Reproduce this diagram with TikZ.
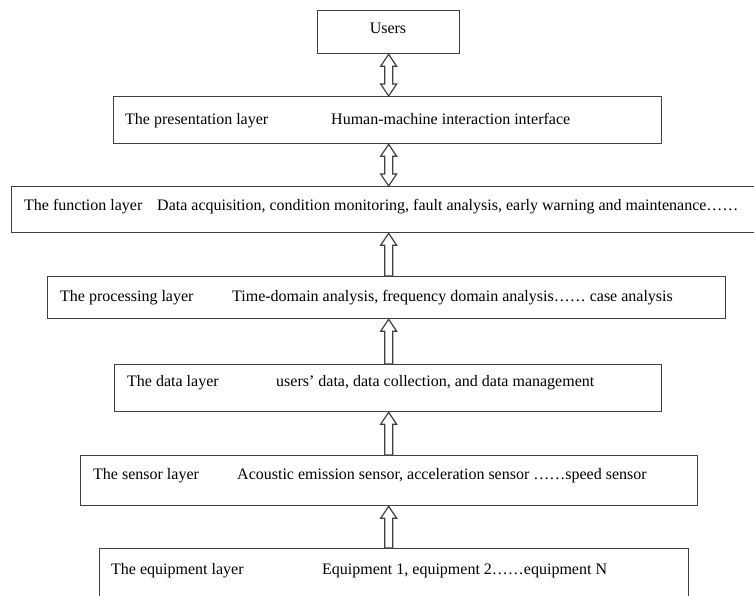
\documentclass[tikz,border=0pt]{standalone}
\usepackage{fontspec}
\setmainfont{Liberation Serif}
\usetikzlibrary{calc}
\tikzset{
  layerbox/.style={draw=black!75, line width=1.3pt, rectangle, anchor=north west, inner sep=0pt},
  lbl/.style={anchor=base west, inner sep=0pt, font=\fontsize{16}{18}\selectfont},
  harrow/.style={draw=black!75, line width=1.2pt, fill=white, line join=miter}
}
\newcommand\uparrowshape[2]{%
  \draw[harrow] let \p1=#1, \p2=#2 in
   (\x1-4pt,\y1) -- (\x1-4pt,\y2-12pt) -- (\x1-8pt,\y2-12pt) -- (\x1,\y2)
   -- (\x1+8pt,\y2-12pt) -- (\x1+4pt,\y2-12pt) -- (\x1+4pt,\y1) -- cycle;}
\newcommand\dblarrowshape[2]{%
  \draw[harrow] let \p1=#1, \p2=#2 in
   (\x1,\y1) -- (\x1-8pt,\y1+12pt) -- (\x1-4pt,\y1+12pt) -- (\x1-4pt,\y2-12pt) -- (\x1-8pt,\y2-12pt) -- (\x1,\y2)
   -- (\x1+8pt,\y2-12pt) -- (\x1+4pt,\y2-12pt) -- (\x1+4pt,\y1+12pt) -- (\x1+8pt,\y1+12pt) -- cycle;}
\begin{document}
\begin{tikzpicture}[x=1pt,y=-1pt]
\useasboundingbox (0,0) rectangle (754,596);
\clip (0,0) rectangle (754,596);
\fill[white] (0,0) rectangle (754,596);
% boxes
\node[layerbox, minimum width=142pt, minimum height=43pt] (users) at (317,10) {};
\node[layerbox, minimum width=548pt, minimum height=47pt] (pres) at (113,96) {};
\node[layerbox, minimum width=750pt, minimum height=46pt] (func) at (11,186) {};
\node[layerbox, minimum width=678pt, minimum height=42pt] (proc) at (47,276) {};
\node[layerbox, minimum width=547pt, minimum height=47pt] (data) at (114,364) {};
\node[layerbox, minimum width=617pt, minimum height=50pt] (sens) at (80,455) {};
\node[layerbox, minimum width=589pt, minimum height=55pt] (equip) at (99,548) {};
% texts
\node[font=\fontsize{16}{18}\selectfont, inner sep=0pt, anchor=base] (tusers) at (388,34) {Users};
\node[lbl] (tpres1) at (125,125) {The presentation layer};
\node[lbl] (tpres2) at (331,125) {Human-machine interaction interface};
\node[lbl] (tfunc1) at (24,210) {The function layer};
\node[lbl] (tfunc2) at (157,210) {Data acquisition, condition monitoring, fault analysis, early warning and maintenance\dots\dots};
\node[lbl] (tproc1) at (60,301) {The processing layer};
\node[lbl] (tproc2) at (232,301) {Time-domain analysis, frequency domain analysis\dots\dots\ case analysis};
\node[lbl] (tdata1) at (127,386) {The data layer};
\node[lbl] (tdata2) at (276,386) {users’ data, data collection, and data management};
\node[lbl] (tsens1) at (93,479) {The sensor layer};
\node[lbl] (tsens2) at (237,479) {Acoustic emission sensor, acceleration sensor \dots\dots speed sensor};
\node[lbl] (tequip1) at (111,574) {The equipment layer};
\node[lbl] (tequip2) at (322,574) {Equipment 1, equipment 2\dots\dots equipment N};
% arrows
\dblarrowshape{(users.south |- pres.north)}{(users.south)}
\dblarrowshape{(users.south |- func.north)}{(users.south |- pres.south)}
\uparrowshape{(users.south |- proc.north)}{(users.south |- func.south)}
\uparrowshape{(users.south |- data.north)}{(users.south |- proc.south)}
\uparrowshape{(users.south |- sens.north)}{(users.south |- data.south)}
\uparrowshape{(users.south |- equip.north)}{(users.south |- sens.south)}
\end{tikzpicture}
\end{document}
